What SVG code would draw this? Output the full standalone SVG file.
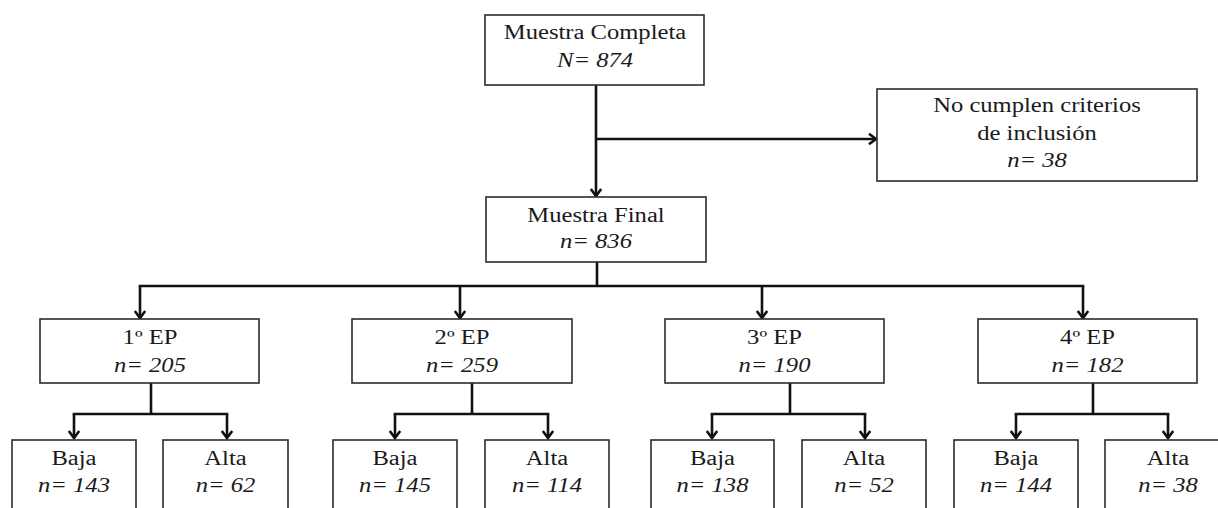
<svg xmlns="http://www.w3.org/2000/svg" width="1218" height="508" viewBox="0 0 1218 508">
<defs>
<style>
.box{fill:#fff;stroke:#2b2b2b;stroke-width:1.6}
.t{font-family:"Liberation Serif","Times New Roman",serif;font-size:20px;fill:#1a1a1a;text-anchor:middle}
.i{font-style:italic}
.c{fill:none;stroke:#111;stroke-width:2.6}
</style>
<marker id="ah" markerUnits="userSpaceOnUse" markerWidth="14" markerHeight="14" refX="10" refY="7" orient="auto">
<path d="M3,1.8 L10,7 L3,12.2" fill="none" stroke="#111" stroke-width="2.6"/>
</marker>
</defs>
<rect width="1218" height="508" fill="#fff"/>
<g id="connectors">
<line class="c" x1="596" y1="85" x2="596" y2="196" marker-end="url(#ah)"/>
<line class="c" x1="596" y1="139" x2="876" y2="139" marker-end="url(#ah)"/>
<line class="c" x1="597" y1="262" x2="597" y2="286"/>
<line class="c" x1="138.7" y1="286" x2="1084.3" y2="286"/>
<line class="c" x1="140" y1="286" x2="140" y2="318" marker-end="url(#ah)"/>
<line class="c" x1="460" y1="286" x2="460" y2="318" marker-end="url(#ah)"/>
<line class="c" x1="762" y1="286" x2="762" y2="318" marker-end="url(#ah)"/>
<line class="c" x1="1083" y1="286" x2="1083" y2="318" marker-end="url(#ah)"/>
<line class="c" x1="151" y1="383" x2="151" y2="414"/>
<line class="c" x1="72.7" y1="414" x2="228.3" y2="414"/>
<line class="c" x1="74" y1="414" x2="74" y2="438" marker-end="url(#ah)"/>
<line class="c" x1="227" y1="414" x2="227" y2="438" marker-end="url(#ah)"/>
<line class="c" x1="472" y1="383" x2="472" y2="414"/>
<line class="c" x1="393.7" y1="414" x2="549.3" y2="414"/>
<line class="c" x1="395" y1="414" x2="395" y2="438" marker-end="url(#ah)"/>
<line class="c" x1="548" y1="414" x2="548" y2="438" marker-end="url(#ah)"/>
<line class="c" x1="790" y1="383" x2="790" y2="414"/>
<line class="c" x1="710.7" y1="414" x2="866.3" y2="414"/>
<line class="c" x1="712" y1="414" x2="712" y2="438" marker-end="url(#ah)"/>
<line class="c" x1="865" y1="414" x2="865" y2="438" marker-end="url(#ah)"/>
<line class="c" x1="1093" y1="383" x2="1093" y2="414"/>
<line class="c" x1="1014.7" y1="414" x2="1169.3" y2="414"/>
<line class="c" x1="1016" y1="414" x2="1016" y2="438" marker-end="url(#ah)"/>
<line class="c" x1="1168" y1="414" x2="1168" y2="438" marker-end="url(#ah)"/>
</g>
<g id="muestra-completa">
<rect class="box" x="485" y="15" width="219" height="70"/>
<text class="t" transform="translate(595,39) scale(1.23,1)">Muestra Completa</text>
<text class="t i" transform="translate(595,67) scale(1.23,1)">N= 874</text>
</g>
<g id="no-cumplen">
<rect class="box" x="877" y="89" width="320" height="92"/>
<text class="t" transform="translate(1037,112) scale(1.23,1)">No cumplen criterios</text>
<text class="t" transform="translate(1037,140) scale(1.23,1)">de inclusión</text>
<text class="t i" transform="translate(1037,167) scale(1.23,1)">n= 38</text>
</g>
<g id="muestra-final">
<rect class="box" x="486" y="197" width="220" height="65"/>
<text class="t" transform="translate(596,222) scale(1.23,1)">Muestra Final</text>
<text class="t i" transform="translate(596,248) scale(1.23,1)">n= 836</text>
</g>
<g id="ep1">
<rect class="box" x="40" y="319" width="219" height="64"/>
<text class="t" transform="translate(150,344) scale(1.23,1)">1º EP</text>
<text class="t i" transform="translate(150,372) scale(1.23,1)">n= 205</text>
</g>
<g id="ep2">
<rect class="box" x="352" y="319" width="220" height="64"/>
<text class="t" transform="translate(462,344) scale(1.23,1)">2º EP</text>
<text class="t i" transform="translate(462,372) scale(1.23,1)">n= 259</text>
</g>
<g id="ep3">
<rect class="box" x="665" y="319" width="219" height="64"/>
<text class="t" transform="translate(774.5,344) scale(1.23,1)">3º EP</text>
<text class="t i" transform="translate(774.5,372) scale(1.23,1)">n= 190</text>
</g>
<g id="ep4">
<rect class="box" x="978" y="319" width="219" height="64"/>
<text class="t" transform="translate(1087.5,344) scale(1.23,1)">4º EP</text>
<text class="t i" transform="translate(1087.5,372) scale(1.23,1)">n= 182</text>
</g>
<g id="ep1-baja">
<rect class="box" x="12" y="440" width="124" height="90"/>
<text class="t" transform="translate(74,465) scale(1.23,1)">Baja</text>
<text class="t i" transform="translate(74,492) scale(1.23,1)">n= 143</text>
</g>
<g id="ep1-alta">
<rect class="box" x="163" y="440" width="125" height="90"/>
<text class="t" transform="translate(225.5,465) scale(1.23,1)">Alta</text>
<text class="t i" transform="translate(225.5,492) scale(1.23,1)">n= 62</text>
</g>
<g id="ep2-baja">
<rect class="box" x="333" y="440" width="124" height="90"/>
<text class="t" transform="translate(395,465) scale(1.23,1)">Baja</text>
<text class="t i" transform="translate(395,492) scale(1.23,1)">n= 145</text>
</g>
<g id="ep2-alta">
<rect class="box" x="485" y="440" width="124" height="90"/>
<text class="t" transform="translate(547,465) scale(1.23,1)">Alta</text>
<text class="t i" transform="translate(547,492) scale(1.23,1)">n= 114</text>
</g>
<g id="ep3-baja">
<rect class="box" x="651" y="440" width="123" height="90"/>
<text class="t" transform="translate(712.5,465) scale(1.23,1)">Baja</text>
<text class="t i" transform="translate(712.5,492) scale(1.23,1)">n= 138</text>
</g>
<g id="ep3-alta">
<rect class="box" x="802" y="440" width="124" height="90"/>
<text class="t" transform="translate(864,465) scale(1.23,1)">Alta</text>
<text class="t i" transform="translate(864,492) scale(1.23,1)">n= 52</text>
</g>
<g id="ep4-baja">
<rect class="box" x="954" y="440" width="124" height="90"/>
<text class="t" transform="translate(1016,465) scale(1.23,1)">Baja</text>
<text class="t i" transform="translate(1016,492) scale(1.23,1)">n= 144</text>
</g>
<g id="ep4-alta">
<rect class="box" x="1105" y="440" width="126" height="90"/>
<text class="t" transform="translate(1168,465) scale(1.23,1)">Alta</text>
<text class="t i" transform="translate(1168,492) scale(1.23,1)">n= 38</text>
</g>
</svg>
